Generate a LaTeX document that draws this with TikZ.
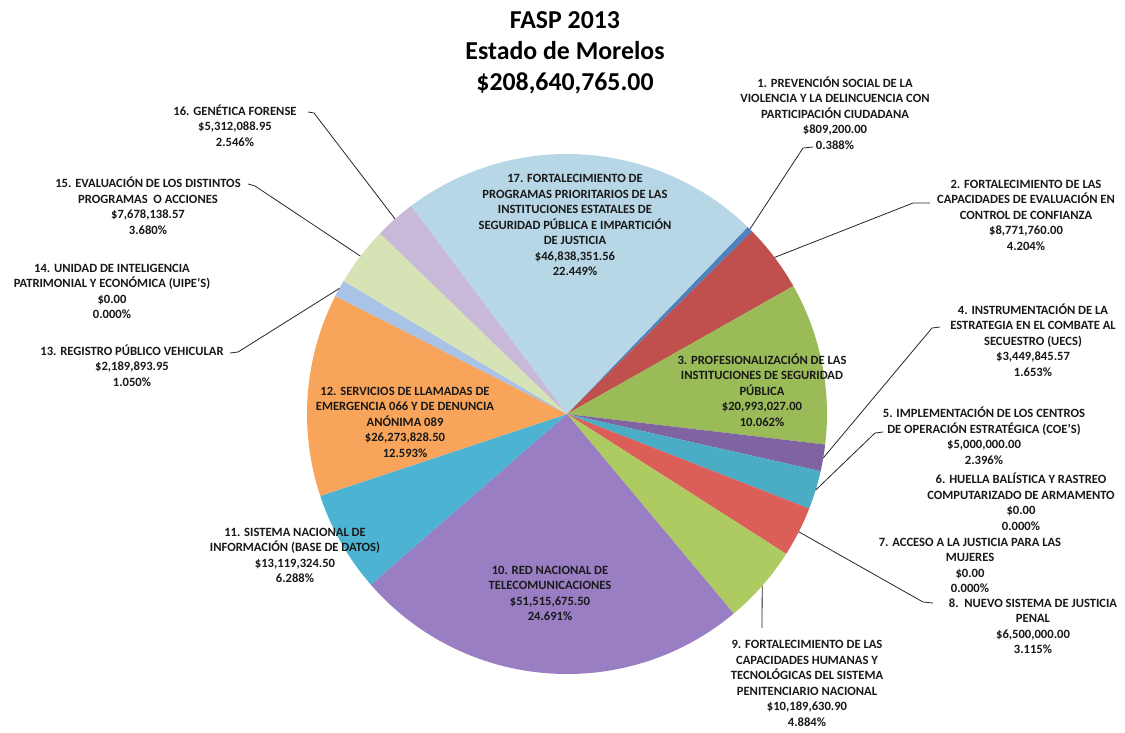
\documentclass[tikz,border=0pt]{standalone}
\usepackage{fontspec}
\setmainfont{Carlito}
\definecolor{c1}{HTML}{4F81BD}
\definecolor{c2}{HTML}{C0504D}
\definecolor{c3}{HTML}{9BBB59}
\definecolor{c4}{HTML}{8064A2}
\definecolor{c5}{HTML}{4BACC6}
\definecolor{c8}{HTML}{DC5E58}
\definecolor{c9}{HTML}{ADCB61}
\definecolor{c10}{HTML}{9A7EC3}
\definecolor{c11}{HTML}{4CB4D2}
\definecolor{c12}{HTML}{F8A55B}
\definecolor{c13}{HTML}{A9C3E6}
\definecolor{c15}{HTML}{D6E3B4}
\definecolor{c16}{HTML}{C8B9D9}
\definecolor{c17}{HTML}{B7D6E6}
\tikzset{lbl/.style={align=center,inner sep=0pt,text=black!90,font=\bfseries\fontsize{12.6}{15.5}\selectfont}}
\tikzset{ttl/.style={align=center,inner sep=0pt,font=\bfseries\fontsize{25.8}{31}\selectfont}}
\tikzset{lead/.style={draw=black!85,line width=0.8pt}}

\begin{document}
\begin{tikzpicture}[x=1pt,y=-1pt]
\useasboundingbox [fill=white] (0,0) rectangle (1125,732);
\coordinate (o) at (567,414);

\fill [c1] (o) -- ++(-46:260) arc [start angle=-46, end angle=-44.60, radius=260] -- cycle;
\fill [c2] (o) -- ++(-44.60:260) arc [start angle=-44.60, end angle=-29.47, radius=260] -- cycle;
\fill [c3] (o) -- ++(-29.47:260) arc [start angle=-29.47, end angle=6.75, radius=260] -- cycle;
\fill [c4] (o) -- ++(6.75:260) arc [start angle=6.75, end angle=12.71, radius=260] -- cycle;
\fill [c5] (o) -- ++(12.71:260) arc [start angle=12.71, end angle=21.33, radius=260] -- cycle;
\fill [c8] (o) -- ++(21.33:260) arc [start angle=21.33, end angle=32.54, radius=260] -- cycle;
\fill [c9] (o) -- ++(32.54:260) arc [start angle=32.54, end angle=50.13, radius=260] -- cycle;
\fill [c10] (o) -- ++(50.13:260) arc [start angle=50.13, end angle=139.01, radius=260] -- cycle;
\fill [c11] (o) -- ++(139.01:260) arc [start angle=139.01, end angle=161.65, radius=260] -- cycle;
\fill [c12] (o) -- ++(161.65:260) arc [start angle=161.65, end angle=206.99, radius=260] -- cycle;
\fill [c13] (o) -- ++(206.99:260) arc [start angle=206.99, end angle=210.77, radius=260] -- cycle;
\fill [c15] (o) -- ++(210.77:260) arc [start angle=210.77, end angle=224.01, radius=260] -- cycle;
\fill [c16] (o) -- ++(224.01:260) arc [start angle=224.01, end angle=233.18, radius=260] -- cycle;
\fill [c17] (o) -- ++(233.18:260) arc [start angle=233.18, end angle=314, radius=260] -- cycle;

\node [ttl] (title) at (565,53) {FASP 2013\\Estado de Morelos\\\$208,640,765.00};

\node [lbl] (l1) at (835,113) {1. PREVENCIÓN SOCIAL DE LA\\VIOLENCIA Y LA DELINCUENCIA CON\\PARTICIPACIÓN CIUDADANA\\\$809,200.00\\0.388\%};
\node [lbl] (l2) at (1026,215) {2. FORTALECIMIENTO DE LAS\\CAPACIDADES DE EVALUACIÓN EN\\CONTROL DE CONFIANZA\\\$8,771,760.00\\4.204\%};
\node [lbl] (l3) at (762,390) {3. PROFESIONALIZACIÓN DE LAS\\INSTITUCIONES DE SEGURIDAD\\PÚBLICA\\\$20,993,027.00\\10.062\%};
\node [lbl] (l4) at (1033,340) {4. INSTRUMENTACIÓN DE LA\\ESTRATEGIA EN EL COMBATE AL\\SECUESTRO (UECS)\\\$3,449,845.57\\1.653\%};
\node [lbl] (l5) at (984,436) {5. IMPLEMENTACIÓN DE LOS CENTROS\\DE OPERACIÓN ESTRATÉGICA (COE'S)\\\$5,000,000.00\\2.396\%};
\node [lbl] (l6) at (1021,502) {6. HUELLA BALÍSTICA Y RASTREO\\COMPUTARIZADO DE ARMAMENTO\\\$0.00\\0.000\%};
\node [lbl] (l7) at (970,565.5) {7. ACCESO A LA JUSTICIA PARA LAS\\MUJERES\\\$0.00\\0.000\%};
\node [lbl] (l8) at (1033,626) {8.\ \ NUEVO SISTEMA DE JUSTICIA\\PENAL\\\$6,500,000.00\\3.115\%};
\node [lbl] (l9) at (807,683.5) {9. FORTALECIMIENTO DE LAS\\CAPACIDADES HUMANAS Y\\TECNOLÓGICAS DEL SISTEMA\\PENITENCIARIO NACIONAL\\\$10,189,630.90\\4.884\%};
\node [lbl] (l10) at (550,593.5) {10. RED NACIONAL DE\\TELECOMUNICACIONES\\\$51,515,675.50\\24.691\%};
\node [lbl] (l11) at (295,555.5) {11. SISTEMA NACIONAL DE\\INFORMACIÓN (BASE DE DATOS)\\\$13,119,324.50\\6.288\%};
\node [lbl] (l12) at (405,422) {12. SERVICIOS DE LLAMADAS DE\\EMERGENCIA 066 Y DE DENUNCIA\\ANÓNIMA 089\\\$26,273,828.50\\12.593\%};
\node [lbl] (l13) at (132,365.5) {13. REGISTRO PÚBLICO VEHICULAR\\\$2,189,893.95\\1.050\%};
\node [lbl] (l14) at (112,291.5) {14. UNIDAD DE INTELIGENCIA\\PATRIMONIAL Y ECONÓMICA (UIPE'S)\\\$0.00\\0.000\%};
\node [lbl] (l15) at (148,206) {15. EVALUACIÓN DE LOS DISTINTOS\\PROGRAMAS\ \ O ACCIONES\\\$7,678,138.57\\3.680\%};
\node [lbl] (l16) at (235,125.5) {16. GENÉTICA FORENSE\\\$5,312,088.95\\2.546\%};
\node [lbl] (l17) at (575,225) {17. FORTALECIMIENTO DE\\PROGRAMAS PRIORITARIOS DE LAS\\INSTITUCIONES ESTATALES DE\\SEGURIDAD PÚBLICA E IMPARTICIÓN\\DE JUSTICIA\\\$46,838,351.56\\22.449\%};

\path (o) ++(-45.30:260) coordinate (p1);
\path (o) ++(-37.03:260) coordinate (p2);
\path (o) ++(9.73:260) coordinate (p4);
\path (o) ++(17.02:260) coordinate (p5);
\path (o) ++(26.94:260) coordinate (p8);
\path (o) ++(41.34:260) coordinate (p9);
\path (o) ++(208.88:260) coordinate (p13);
\path (o) ++(217.39:260) coordinate (p15);
\path (o) ++(228.60:260) coordinate (p16);

\coordinate (k1) at (803,148);
\coordinate (h1) at (813,147);
\coordinate (k2) at (913,203);
\coordinate (h2) at (930,203);
\coordinate (k4) at (932,328);
\coordinate (h4) at (940,327);
\coordinate (k5) at (875,433);
\coordinate (h5) at (883,432);
\coordinate (k8) at (923,602);
\coordinate (h8) at (933,603);
\coordinate (k9) at (762,628);
\coordinate (k13) at (238,352);
\coordinate (h13) at (230,353);
\coordinate (k15) at (255,186);
\coordinate (h15) at (248,184);
\coordinate (k16) at (314,113);
\coordinate (h16) at (308,112);

\draw [lead] (p1) -- (k1) -- (h1);
\draw [lead] (p2) -- (k2) -- (h2);
\draw [lead] (p4) -- (k4) -- (h4);
\draw [lead] (p5) -- (k5) -- (h5);
\draw [lead] (p8) -- (k8) -- (h8);
\draw [lead] (p9) -- (k9);
\draw [lead] (p13) -- (k13) -- (h13);
\draw [lead] (p15) -- (k15) -- (h15);
\draw [lead] (p16) -- (k16) -- (h16);
\end{tikzpicture}
\end{document}
